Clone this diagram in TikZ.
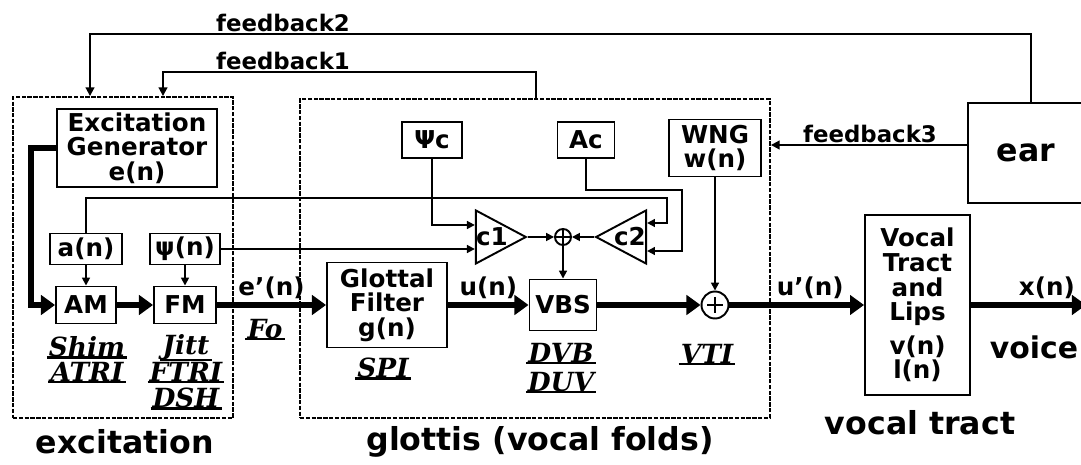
\documentclass[tikz,border=0pt]{standalone}
\usepackage{fontspec}
\setmainfont{DejaVu Sans}
\newfontfamily\measfont{DejaVu Serif}
\usetikzlibrary{calc,arrows.meta,shapes.geometric}

\begin{document}
\begin{tikzpicture}[x=0.02cm, y=-0.02cm,
  every node/.style={font=\fontsize{14}{14}\selectfont\bfseries, align=center},
  blk/.style={draw, line width=1.1pt, inner sep=2pt},
  grp/.style={draw, line width=1.1pt, dash pattern=on 2.5pt off 0.8pt},
  sig/.style={line width=3pt, -{Triangle[length=8pt,width=11pt]}},
  ctl/.style={line width=1pt, -{Triangle[length=4.5pt,width=4.5pt]}},
  fb/.style={line width=1.1pt, -{Triangle[length=5pt,width=5pt]}},
  amp/.style={draw, line width=1.1pt, isosceles triangle, isosceles triangle apex angle=56,
    minimum height=1cm, inner sep=0pt, font=\fontsize{14}{14}\selectfont\bfseries},
  sum/.style={draw, circle, line width=1.1pt, inner sep=0pt},
  meas/.style={font=\measfont\fontsize{15}{15}\selectfont\bfseries\itshape, inner sep=1pt},
  big/.style={font=\fontsize{18}{20}\selectfont\bfseries}]

\useasboundingbox (0,0) rectangle (1081,465);

% =================== group boxes ===================
\node[grp, minimum width=4.4cm, minimum height=6.42cm] (exc) at (123,257.5) {};
\node[grp, minimum width=9.4cm, minimum height=6.38cm] (glo) at (535,258.5) {};
\node[blk, big, minimum width=2.32cm, minimum height=2cm] (ear) at (1026,153) {ear};

\node[big] (lexc) at (125,442) {excitation};
\node[big] (lglo) at (540,442) {glottis (vocal folds)};
\node[big] (lvt) at (920,423) {vocal tract};
\node[big, font=\fontsize{17}{20}\selectfont\bfseries] (lvoice) at (1034,347) {voice};

% =================== excitation ===================
\node[blk, minimum width=3.2cm, minimum height=1.54cm] (gen) at (137,148) {Excitation\\Generator\\e(n)};
\node[blk, minimum width=1.44cm, minimum height=0.62cm] (an) at (86,249) {a(n)};
\node[blk, minimum width=1.4cm, minimum height=0.62cm] (psin) at (185,249) {ψ(n)};
\node[blk, minimum width=1.2cm, minimum height=0.74cm] (am) at (86,305) {AM};
\node[blk, minimum width=1.24cm, minimum height=0.74cm] (fm) at (185,305) {FM};

% =================== glottis ===================
\node[blk, minimum width=2.4cm, minimum height=1.7cm] (glf) at (387,305) {Glottal\\Filter\\g(n)};
\node[blk, minimum width=1.34cm, minimum height=1.02cm] (vbs) at (563,305) {VBS};
\node[blk, minimum width=1.2cm, minimum height=0.72cm] (psic) at (432,140) {Ψc};
\node[blk, minimum width=1.14cm, minimum height=0.72cm] (ac) at (586,140) {Ac};
\node[blk, minimum width=1.84cm, minimum height=1.14cm] (wng) at (715,148) {WNG\\w(n)};
\node[amp] (c1) at (492,237) {c1};
\node[amp, shape border rotate=180] (c2) at (630,237) {c2};
\node[sum, minimum size=0.32cm] (s1) at (563,237) {};
\node[sum, minimum size=0.54cm] (s2) at (715,305) {};
\draw[line width=1pt] (s1.north) -- (s1.south) (s1.west) -- (s1.east);
\draw[line width=1.1pt] ($(s2)+(0,-8)$) -- ($(s2)+(0,8)$) ($(s2)+(-8,0)$) -- ($(s2)+(8,0)$);

% =================== vocal tract ===================
\node[blk, minimum width=2.1cm, minimum height=3.6cm] (vt) at (917.5,305) {Vocal\\Tract\\and\\Lips\\[5pt]v(n)\\l(n)};
\coordinate (out) at (1086,305);

% measures, underlined
\foreach \t/\x/\y in {Shim/87/347, ATRI/87/372, Jitt/186/347, FTRI/186/372, DSH/186/398,
  Fo/265/329, SPI/383/368, DVB/561/353, DUV/561/382, VTI/707/354}{
  \node[meas] (m\t) at (\x,\y) {\t};
  \draw[line width=1.4pt] ([yshift=1pt]m\t.south west) -- ([yshift=1pt]m\t.south east);
}

% main signal path
\draw[sig] (gen.west) -- ++(-25,0) |- (am.west);
\draw[sig] (am.east) -- (fm.west);
\draw[sig] (fm.east) -- (glf.west) node[midway, above, inner sep=2pt] (leb) {e'(n)};
\draw[sig] (glf.east) -- (vbs.west) node[midway, above, inner sep=2pt] (lun) {u(n)};
\draw[sig] (vbs.east) -- (s2.west);
\draw[sig] (s2.east) -- (vt.west) node[pos=0.6, above, inner sep=2pt] (lup) {u'(n)};
\draw[sig] (vt.east) -- (out) node[pos=0.66, above, inner sep=2pt] (lxn) {x(n)};

% control lines
\coordinate (k1) at (667,198);
\coordinate (k2) at (682,190);
\draw[ctl] (an.south) -- (am.north);
\draw[ctl] (psin.south) -- (fm.north);
\draw[ctl] (an.north) |- (k1) |- ($(c2.east)+(0,-14)$);
\draw[ctl] (ac.south) |- (k2) |- ($(c2.east)+(0,14)$);
\draw[ctl] (psic.south) |- ($(c1.west)+(0,-12)$);
\draw[ctl] (psin.east) -- (psin.east -| c1.west);
\draw[ctl] (c1.east) -- (s1.west);
\draw[ctl] (c2.west) -- (s1.east);
\draw[ctl] (s1.south) -- (vbs.north);
\draw[ctl] (wng.south) -- (s2.north);

% feedback loops
\coordinate (f1a) at (536,72);
\coordinate (f1b) at (163,72);
\coordinate (f2a) at (1031,34);
\coordinate (f2b) at (90,34);
\coordinate (f3) at (0,145);
\draw[fb] (f1a |- glo.north) -- (f1a) -- (f1b) -- (f1b |- exc.north);
\draw[fb] (f2a |- ear.north) -- (f2a) -- (f2b) -- (f2b |- exc.north);
\draw[fb] (ear.west |- f3) -- (glo.east |- f3);
\node[above, inner sep=1pt, font=\fontsize{13}{13}\selectfont\bfseries] (lfb1) at (283,72) {feedback1};
\node[above, inner sep=1pt, font=\fontsize{13}{13}\selectfont\bfseries] (lfb2) at (283,34) {feedback2};
\node[above, inner sep=1pt, font=\fontsize{13}{13}\selectfont\bfseries] (lfb3) at (870,145) {feedback3};

\end{tikzpicture}
\end{document}
